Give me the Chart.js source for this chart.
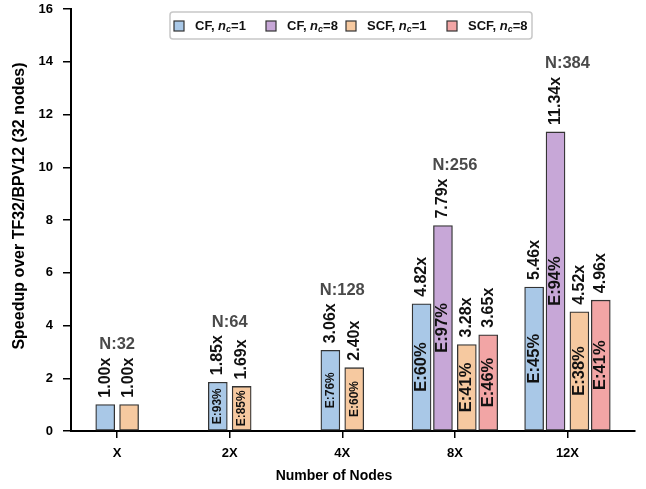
<!DOCTYPE html>
<html>
<head>
<meta charset="utf-8">
<script src="https://cdn.jsdelivr.net/npm/chart.js@4.4.1/dist/chart.umd.min.js"></script>
<style>
  html, body { margin: 0; padding: 0; background: #fff; }
  #wrap { width: 646px; height: 489px; position: relative; }
</style>
</head>
<body>
<div id="wrap"><canvas id="c" width="646" height="489"></canvas></div>
<script>
// ---- data ----
const categories = ['X', '2X', '4X', '8X', '12X'];
const nodeLabels = ['N:32', 'N:64', 'N:128', 'N:256', 'N:384'];
const seriesNames = ['CF, n_c=1', 'CF, n_c=8', 'SCF, n_c=1', 'SCF, n_c=8'];
const cfNc1  = [1.00, 1.85, 3.06, 4.82, 5.46];
const cfNc8  = [null, null, null, 7.79, 11.34];
const scfNc1 = [1.00, 1.69, 2.40, 3.28, 4.52];
const scfNc8 = [null, null, null, 3.65, 4.96];
const effCfNc1  = [null, 93, 76, 60, 45];
const effCfNc8  = [null, null, null, 97, 94];
const effScfNc1 = [null, 85, 60, 41, 38];
const effScfNc8 = [null, null, null, 46, 41];
const yTickValues = [0, 2, 4, 6, 8, 10, 12, 14, 16];

// ---- styling ----
const colors = ['#a9c8e7', '#c7a7d7', '#f6c9a0', '#f2a5a5'];
const FONT = '"Liberation Sans", Arial, sans-serif';
const allValues = [cfNc1, cfNc8, scfNc1, scfNc8];
const allEff = [effCfNc1, effCfNc8, effScfNc1, effScfNc8];

// layout of bars inside a group (computed from how many series are present)
function groupOffsets(n) {
  const inner = 0.106, step = 0.19;
  if (n === 2) return [-inner, inner];
  if (n === 4) return [-(inner + step), -inner, inner, inner + step];
  const out = [];
  for (let k = 0; k < n; k++) out.push((k - (n - 1) / 2) * step);
  return out;
}

const datasets = allValues.map((vals, s) => ({
  label: seriesNames[s],
  data: [],
  eff: [],
  backgroundColor: colors[s],
  borderColor: '#333',
  borderWidth: 1.3,
  borderSkipped: false,
  grouped: false,
  barThickness: 19
}));
categories.forEach((cat, i) => {
  const present = allValues.map((v, s) => s).filter(s => allValues[s][i] != null);
  const offs = groupOffsets(present.length);
  present.forEach((s, k) => {
    datasets[s].data.push({ x: i + offs[k], y: allValues[s][i], g: i });
    datasets[s].eff.push(allEff[s][i]);
  });
});

const labelPlugin = {
  id: 'labels',
  afterDatasetsDraw(chart) {
    const ctx = chart.ctx;
    const groupTop = categories.map(() => Infinity);
    ctx.save();
    chart.data.datasets.forEach((ds, s) => {
      const meta = chart.getDatasetMeta(s);
      meta.data.forEach((bar, j) => {
        const pt = ds.data[j];
        const big = pt.g >= 3;
        // value label, rotated
        const vtxt = pt.y.toFixed(2) + 'x';
        ctx.font = 'bold 16px ' + FONT;
        ctx.fillStyle = '#111';
        const w = ctx.measureText(vtxt).width;
        ctx.save();
        ctx.translate(bar.x, bar.y - 7);
        ctx.rotate(-Math.PI / 2);
        ctx.textAlign = 'left';
        ctx.textBaseline = 'middle';
        ctx.fillText(vtxt, 0, 0);
        ctx.restore();
        groupTop[pt.g] = Math.min(groupTop[pt.g], bar.y - 7 - w);
        // efficiency label inside bar
        const e = ds.eff[j];
        if (e != null) {
          ctx.save();
          ctx.font = 'bold ' + (big ? 16.5 : 12) + 'px ' + FONT;
          ctx.translate(bar.x, (bar.y + bar.base) / 2);
          ctx.rotate(-Math.PI / 2);
          ctx.textAlign = 'center';
          ctx.textBaseline = 'middle';
          ctx.fillText('E:' + e + '%', 0, 0);
          ctx.restore();
        }
      });
    });
    // node count labels
    const xs = chart.scales.x;
    ctx.font = 'bold 16.5px ' + FONT;
    ctx.fillStyle = '#4a4a4a';
    ctx.textAlign = 'center';
    ctx.textBaseline = 'middle';
    categories.forEach((c, i) => {
      ctx.fillText(nodeLabels[i], xs.getPixelForValue(i), groupTop[i] - 13);
    });
    ctx.restore();
  },
  afterDraw(chart) {
    const ctx = chart.ctx;
    ctx.save();
    ctx.fillStyle = '#000';
    ctx.textAlign = 'center';
    ctx.textBaseline = 'middle';
    // axis titles
    ctx.font = 'bold 14px ' + FONT;
    ctx.fillText('Number of Nodes', 334, 476);
    ctx.save();
    ctx.translate(20, 206);
    ctx.rotate(-Math.PI / 2);
    ctx.font = 'bold 16px ' + FONT;
    ctx.fillText('Speedup over TF32/BPV12 (32 nodes)', 0, 0);
    ctx.restore();
    // legend
    const bx = 170, by = 12, bw = 362, bh = 27;
    ctx.fillStyle = '#fff';
    ctx.strokeStyle = '#c8c8c8';
    ctx.lineWidth = 1.5;
    ctx.beginPath();
    ctx.roundRect(bx, by, bw, bh, 3);
    ctx.fill();
    ctx.stroke();
    const cy = by + bh / 2 + 0.5;
    const items = [
      { pre: 'CF, ', num: '1', x: 174 },
      { pre: 'CF, ', num: '8', x: 266 },
      { pre: 'SCF, ', num: '1', x: 346 },
      { pre: 'SCF, ', num: '8', x: 447 }
    ];
    items.forEach((it, k) => {
      ctx.fillStyle = colors[k];
      ctx.strokeStyle = '#333';
      ctx.lineWidth = 1.2;
      ctx.fillRect(it.x, cy - 5, 10, 10);
      ctx.strokeRect(it.x, cy - 5, 10, 10);
      let tx = it.x + 21;
      ctx.fillStyle = '#111';
      ctx.textAlign = 'left';
      ctx.textBaseline = 'middle';
      ctx.font = 'bold 13px ' + FONT;
      ctx.fillText(it.pre, tx, cy);
      tx += ctx.measureText(it.pre).width;
      ctx.font = 'italic bold 13px ' + FONT;
      ctx.fillText('n', tx, cy);
      tx += ctx.measureText('n').width;
      ctx.font = 'italic bold 9px ' + FONT;
      ctx.fillText('c', tx, cy + 4);
      tx += ctx.measureText('c').width;
      ctx.font = 'bold 13px ' + FONT;
      ctx.fillText('=' + it.num, tx, cy);
    });
    ctx.restore();
  }
};

new Chart(document.getElementById('c'), {
  type: 'bar',
  data: { datasets },
  options: {
    responsive: false,
    animation: false,
    devicePixelRatio: 1,
    layout: { padding: { top: 9, right: 11, left: 0, bottom: 0 }, autoPadding: false },
    plugins: { legend: { display: false }, tooltip: { enabled: false } },
    scales: {
      x: {
        type: 'linear',
        offset: false,
        min: -0.41,
        max: 4.6,
        afterBuildTicks(scale) { scale.ticks = categories.map((c, i) => ({ value: i })); },
        afterFit(scale) { scale.height = 58; scale.paddingLeft = 0; scale.paddingRight = 0; },
        ticks: {
          callback: (v) => categories[v],
          font: { family: FONT, size: 13, weight: 'bold' },
          color: '#000',
          padding: 8,
          maxRotation: 0
        },
        grid: { offset: false, drawOnChartArea: false, drawTicks: true, tickLength: 7, color: '#000', lineWidth: 1.5 },
        border: { color: '#000', width: 2 }
      },
      y: {
        min: 0,
        max: 16,
        afterBuildTicks(scale) { scale.ticks = yTickValues.map(v => ({ value: v })); },
        afterFit(scale) { scale.width = 71; scale.paddingTop = 0; scale.paddingBottom = 0; },
        ticks: {
          font: { family: FONT, size: 13, weight: 'bold' },
          color: '#000',
          padding: 10
        },
        grid: { drawOnChartArea: false, drawTicks: true, tickLength: 8, color: '#000', lineWidth: 1.5 },
        border: { color: '#000', width: 2 }
      }
    }
  },
  plugins: [labelPlugin]
});
</script>
</body>
</html>
